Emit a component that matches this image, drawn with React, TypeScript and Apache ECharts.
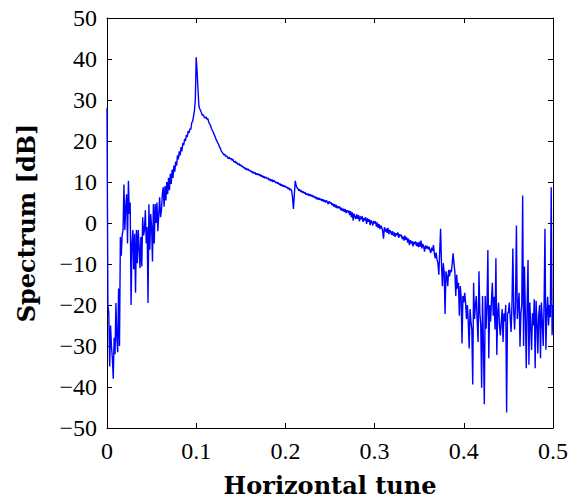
import React, { useEffect, useRef } from "react";
import * as echarts from "echarts";

// Spectrum samples (dB) on a 0.001 tune grid
const spectrumLow = [
  28, -20, -22, -35, -25, -30, -33, -38, -28, -32,
  -19.5, -28, -31.5, -16, -30, -3.4, -8, -3, -1.7, 9.4,
  -1.7, 4, 7, -5, 10.3, 2.2, 5, -20, -5, -1.7,
  -11.3, -2.6, -17, -1.7, -9.8, -1.7, -6, -11, -3.4, -10.6,
  1.4, -3, -1.7, 3.1, -5, -1, -19.5, 4.6, -6.5, 2.2,
  -1, -9.4, 4.6, -5, 4.6, 0, 5, -2, 2, 6.3,
  1.4, 3, 7, 8.7, 4, 9, 5.5, 10, 7, 11,
  8, 12, 9.5, 13, 11, 14, 12.5, 15, 14, 16.5,
  15.5, 17.5, 16.5, 18.5, 17.5, 19.5, 19, 20.5, 20, 21.5,
  21, 22.4, 22, 23, 22.8, 24.5, 24.8, 26, 27.4, 30,
];
const spectrumPeak = [
  40.4, 37, 32.7, 28.6, 27.8, 27.4, 26.8, 26.2, 26.4, 25.8,
  25.6, 25.9, 25.3, 25.5, 24.6, 24.2, 23.8, 23.1, 22.6, 22.2,
  21.6, 21.2, 20.5, 20.1, 19.6, 19.2, 18.6, 18.3, 17.6, 17.3,
  17, 16.6, 16.8, 16.2, 16.4, 16, 15.7, 16.1, 15.6, 15.8,
  15.3, 15.6, 15, 14.8, 15.1, 14.5, 14.7, 14.2, 14.5, 14,
  14.2, 13.7, 13.9, 13.4, 13.6, 13.1, 13.4, 12.9, 13.2, 12.8,
  12.9, 12.5, 12.7, 12.2, 12.5, 12.1, 12.3, 11.8, 12.1, 11.7,
  12, 11.6, 11.8, 11.3, 11.6, 11.1, 11.4, 10.9, 11.2, 11,
  10.7, 11, 10.4, 10.7, 10.2, 10.6, 10, 10.4, 10.2, 9.8,
  10, 9.6, 9.9, 9.3, 9.6, 9.1, 9.4, 8.9, 9.2, 8.8,
];
const spectrumMid = [
  9, 8.6, 8.8, 8.3, 8.6, 8, 8.3, 7.9, 6.2, 3.4,
  6.8, 10.3, 9.2, 8.6, 8.4, 7.9, 8.2, 7.6, 7.9, 7.4,
  7.7, 7.2, 7.5, 6.9, 7.2, 6.8, 7.1, 6.6, 7, 6.5,
  6.8, 6.3, 6.6, 6.1, 6.4, 5.8, 6.2, 5.7, 6.1, 5.6,
  5.9, 5.4, 5.8, 5.2, 5.6, 5, 5.5, 5.1, 4.6, 5.3,
  4.8, 5.1, 4.4, 4.8, 4, 4.6, 3.8, 4.4, 3.6, 4.1,
  3.6, 4, 3.1, 3.7, 2.9, 3.5, 2.7, 3.4, 2.4, 3.1,
  2.6, 3, 1.9, 2.9, 1.4, 2.6, 0.6, 2.3, 1.5, 1,
  2.1, 1, 1.9, 0.4, 1.6, 0.9, 1.7, 0.3, 1.2, 0.6,
  1.4, -0.2, 1.1, 0.3, 0.9, -0.5, 0.7, 0.1, -0.6, 0.5,
];
const spectrumTail = [
  -0.1, 0.4, -0.9, 0.1, -1.2, -0.3, -1.5, -0.6, -1.1, -1.9,
  -3.8, -1, -2.1, -1.4, -2.4, -1.2, -2.7, -1.7, -2.1, -2.9,
  -2, -3.1, -2.3, -3.4, -2.5, -3, -2.3, -3.6, -2.7, -3.2,
  -2.9, -3.9, -3.3, -4.3, -3.1, -4.1, -3.5, -4.8, -3.8, -5.4,
  -4.2, -5, -4.4, -5.7, -4.6, -5.2, -4.5, -5.6, -4.8, -5.9,
  -4.6, -5.8, -4.3, -6.2, -5.1, -5.7, -7, -5.5, -6.2, -5.6,
  -6.4, -5.8, -6.6, -7.3, -6, -6.8, -5.4, -7.5, -8.6, -7.2,
  -9, -9.8, -12.6, -7, -1.4, -10, -15.4, -9.8, -12, -22.2,
  -11.8, -13, -15.4, -11.4, -13, -11.4, -12, -10, -7.4, -9.8,
  -12, -17.8, -12.6, -16, -14.6, -22.6, -15.4, -18, -29.4, -17.8,
];
const spectrumHigh = [
  -19.4, -17, -19.4, -23.4, -20, -24, -30.6, -21, -24, -26,
  -39.4, -14.6, -23.4, -20, -17.8, -24, -29, -11.8, -22, -25,
  -40.2, -17.8, -30, -44.2, -17.8, -25.8, -20, -6.6, -33, -20,
  -24, -19, -14.6, -22.6, -18, -26, -8.6, -32.2, -22, -19.4,
  -25, -27.4, -24.2, -21, -29, -22, -24, -20, -46.2, -22,
  -21.8, -19.4, -23, -26.6, -20, -6.2, -21.8, -26, -19, -0.6,
  -23.4, -20, -17, -30.2, -22, -20, 6.7, -30, -10.6, -22,
  -35.4, -20, -9, -34.6, -19.4, -25, -31, -22, -25, -18.6,
  -35.4, -19, -24, -31.8, -22.6, -20, -33, -19.4, -24, -30,
  -20, -1.4, -30.9, -22, -18, -25, -20, -23, 8.7, -27.4,
  -20,
];
const TUNE_STEP = 0.001;
const xTicks = [0, 0.1, 0.2, 0.3, 0.4, 0.5];
const yTicks = [-50, -40, -30, -20, -10, 0, 10, 20, 30, 40, 50];

const spectrum = [...spectrumLow, ...spectrumPeak, ...spectrumMid, ...spectrumTail, ...spectrumHigh];
const tune = spectrum.map((_, i) => +(i * TUNE_STEP).toFixed(3));

const serif = "'Liberation Serif', 'Times New Roman', serif";
const boldSerif = "'DejaVu Serif', serif";

export default function App() {
  const ref = useRef<HTMLDivElement>(null);
  useEffect(() => {
    if (!ref.current) return;
    const chart = echarts.init(ref.current, undefined, { renderer: "svg" });
    const axisLine = { show: true, onZero: false, lineStyle: { color: "#000", width: 1 } };
    const axisTick = { show: true, inside: true, length: 5, lineStyle: { color: "#000", width: 1 } };
    const xFmt = (v: number) => (v === 0 ? "0" : v.toFixed(1));
    const yFmt = (v: number) => (v < 0 ? "\u2212" + Math.abs(v) : String(v));
    chart.setOption({
      animation: false,
      backgroundColor: "#fff",
      grid: { left: 107, right: 26, top: 18, bottom: 68, containLabel: false },
      xAxis: [
        {
          type: "value",
          min: xTicks[0],
          max: xTicks[xTicks.length - 1],
          interval: 0.1,
          position: "bottom",
          axisLine,
          axisTick,
          splitLine: { show: false },
          axisLabel: { fontFamily: serif, fontSize: 24, color: "#000", margin: 11, formatter: xFmt },
          name: "Horizontal tune",
          nameLocation: "middle",
          nameGap: 45,
          nameTextStyle: { fontFamily: boldSerif, fontWeight: "bold", fontSize: 24, color: "#000" },
        },
        {
          type: "value",
          min: xTicks[0],
          max: xTicks[xTicks.length - 1],
          interval: 0.1,
          position: "top",
          axisLine,
          axisTick,
          splitLine: { show: false },
          axisLabel: { show: false },
        },
      ],
      yAxis: [
        {
          type: "value",
          min: yTicks[0],
          max: yTicks[yTicks.length - 1],
          interval: 10,
          position: "left",
          axisLine,
          axisTick,
          splitLine: { show: false },
          axisLabel: { fontFamily: serif, fontSize: 24, color: "#000", margin: 10, formatter: yFmt },
          name: "Spectrum [dB]",
          nameLocation: "middle",
          nameGap: 69,
          nameTextStyle: { fontFamily: boldSerif, fontWeight: "bold", fontSize: 24, color: "#000" },
        },
        {
          type: "value",
          min: yTicks[0],
          max: yTicks[yTicks.length - 1],
          interval: 10,
          position: "right",
          axisLine,
          axisTick,
          splitLine: { show: false },
          axisLabel: { show: false },
        },
      ],
      series: [
        {
          type: "line",
          data: tune.map((t, i) => [t, spectrum[i]]),
          showSymbol: false,
          symbol: "none",
          clip: true,
          lineStyle: { color: "#0000ff", width: 1.4 },
          xAxisIndex: 0,
          yAxisIndex: 0,
        },
      ],
    });
    return () => chart.dispose();
  }, []);
  return <div ref={ref} style={{ width: 579, height: 502, position: "absolute", left: 0, top: 0 }} />;
}
